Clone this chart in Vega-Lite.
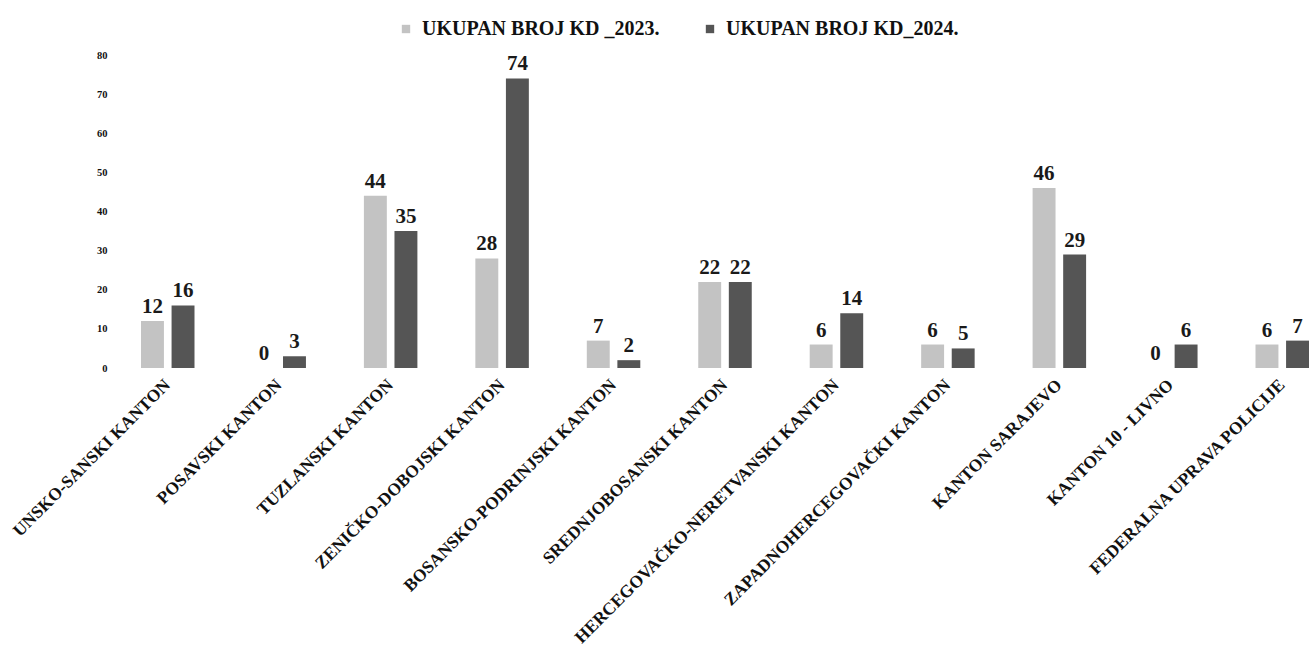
{
  "$schema": "https://vega.github.io/schema/vega-lite/v6.json",
  "autosize": "none",
  "width": 1168,
  "height": 313,
  "padding": {"left": 141, "top": 55, "right": 2, "bottom": 295},
  "background": "white",
  "config": {
    "view": {"stroke": null},
    "font": "Liberation Serif"
  },
  "data": {
    "values": [
      {"kanton": "UNSKO-SANSKI KANTON", "serija": "UKUPAN BROJ KD _2023.", "broj": 12},
      {"kanton": "UNSKO-SANSKI KANTON", "serija": "UKUPAN BROJ KD_2024.", "broj": 16},
      {"kanton": "POSAVSKI KANTON", "serija": "UKUPAN BROJ KD _2023.", "broj": 0},
      {"kanton": "POSAVSKI KANTON", "serija": "UKUPAN BROJ KD_2024.", "broj": 3},
      {"kanton": "TUZLANSKI KANTON", "serija": "UKUPAN BROJ KD _2023.", "broj": 44},
      {"kanton": "TUZLANSKI KANTON", "serija": "UKUPAN BROJ KD_2024.", "broj": 35},
      {"kanton": "ZENIČKO-DOBOJSKI KANTON", "serija": "UKUPAN BROJ KD _2023.", "broj": 28},
      {"kanton": "ZENIČKO-DOBOJSKI KANTON", "serija": "UKUPAN BROJ KD_2024.", "broj": 74},
      {"kanton": "BOSANSKO-PODRINJSKI KANTON", "serija": "UKUPAN BROJ KD _2023.", "broj": 7},
      {"kanton": "BOSANSKO-PODRINJSKI KANTON", "serija": "UKUPAN BROJ KD_2024.", "broj": 2},
      {"kanton": "SREDNJOBOSANSKI KANTON", "serija": "UKUPAN BROJ KD _2023.", "broj": 22},
      {"kanton": "SREDNJOBOSANSKI KANTON", "serija": "UKUPAN BROJ KD_2024.", "broj": 22},
      {"kanton": "HERCEGOVAČKO-NERETVANSKI KANTON", "serija": "UKUPAN BROJ KD _2023.", "broj": 6},
      {"kanton": "HERCEGOVAČKO-NERETVANSKI KANTON", "serija": "UKUPAN BROJ KD_2024.", "broj": 14},
      {"kanton": "ZAPADNOHERCEGOVAČKI KANTON", "serija": "UKUPAN BROJ KD _2023.", "broj": 6},
      {"kanton": "ZAPADNOHERCEGOVAČKI KANTON", "serija": "UKUPAN BROJ KD_2024.", "broj": 5},
      {"kanton": "KANTON SARAJEVO", "serija": "UKUPAN BROJ KD _2023.", "broj": 46},
      {"kanton": "KANTON SARAJEVO", "serija": "UKUPAN BROJ KD_2024.", "broj": 29},
      {"kanton": "KANTON 10 - LIVNO", "serija": "UKUPAN BROJ KD _2023.", "broj": 0},
      {"kanton": "KANTON 10 - LIVNO", "serija": "UKUPAN BROJ KD_2024.", "broj": 6},
      {"kanton": "FEDERALNA UPRAVA POLICIJE", "serija": "UKUPAN BROJ KD _2023.", "broj": 6},
      {"kanton": "FEDERALNA UPRAVA POLICIJE", "serija": "UKUPAN BROJ KD_2024.", "broj": 7}
    ]
  },
  "encoding": {
    "x": {
      "field": "kanton",
      "type": "nominal",
      "sort": null,
      "scale": {"paddingInner": 0.52, "paddingOuter": 0.0},
      "axis": {
        "title": null,
        "labelAngle": -45,
        "labelAlign": "right",
        "labelBaseline": "middle",
        "labelPadding": 14,
        "labelFont": "Liberation Serif",
        "labelFontWeight": "bold",
        "labelFontSize": 17.5,
        "labelColor": "#111111",
        "labelLimit": 400,
        "domain": false,
        "ticks": false
      }
    },
    "xOffset": {
      "field": "serija",
      "type": "nominal",
      "scale": {"paddingInner": 0.25}
    },
    "y": {
      "field": "broj",
      "type": "quantitative",
      "scale": {"domain": [0, 80]},
      "axis": {
        "title": null,
        "values": [0, 10, 20, 30, 40, 50, 60, 70, 80],
        "grid": false,
        "domain": false,
        "ticks": false,
        "offset": 30,
        "labelPadding": 4,
        "labelFont": "Liberation Serif",
        "labelFontWeight": "bold",
        "labelFontSize": 10.5,
        "labelColor": "#111111"
      }
    }
  },
  "layer": [
    {
      "mark": {"type": "bar"},
      "encoding": {
        "color": {
          "field": "serija",
          "type": "nominal",
          "scale": {"range": ["#c3c3c3", "#555555"]},
          "legend": {
            "title": null,
            "orient": "none",
            "direction": "horizontal",
            "legendX": 255,
            "legendY": -36,
            "symbolType": "square",
            "symbolSize": 70,
            "labelFont": "Liberation Serif",
            "labelFontWeight": "bold",
            "labelFontSize": 20,
            "labelColor": "#111111",
            "labelLimit": 400,
            "columnPadding": 40,
            "labelOffset": 6
          }
        }
      }
    },
    {
      "mark": {
        "type": "text",
        "dy": -14,
        "font": "Liberation Serif",
        "fontWeight": "bold",
        "fontSize": 21,
        "color": "#1a1a1a"
      },
      "encoding": {
        "text": {"field": "broj", "type": "quantitative"}
      }
    }
  ]
}
